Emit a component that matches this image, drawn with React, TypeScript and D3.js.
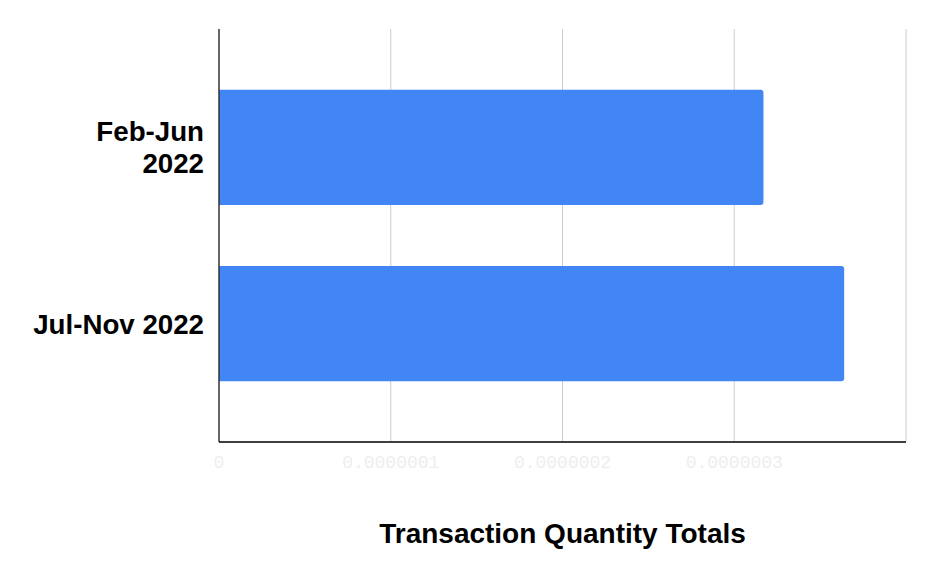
import React from 'react';
import * as d3 from 'd3';

const categories = ['Feb-Jun 2022', 'Jul-Nov 2022'];
const categoryLines = [['Feb-Jun', '2022'], ['Jul-Nov 2022']];
const totals = [3.17e-7, 3.64e-7];
const xTicks = [0, 1e-7, 2e-7, 3e-7, 4e-7];
const xTickLabels = ['0', '0.0000001', '0.0000002', '0.0000003', ''];
const xTitle = 'Transaction Quantity Totals';

const W = 936;
const H = 578;
const margin = { top: 29, right: 30, bottom: 136, left: 219 };
const FONT = 'Arial, "Liberation Sans", sans-serif';

// bar with rounded right-hand corners only
function barPath(x0: number, x1: number, y0: number, h: number, r: number) {
  const p = d3.path();
  p.moveTo(x0, y0);
  p.lineTo(x1 - r, y0);
  p.quadraticCurveTo(x1, y0, x1, y0 + r);
  p.lineTo(x1, y0 + h - r);
  p.quadraticCurveTo(x1, y0 + h, x1 - r, y0 + h);
  p.lineTo(x0, y0 + h);
  p.closePath();
  return p.toString();
}

export default function App() {
  const innerW = W - margin.left - margin.right;
  const innerH = H - margin.top - margin.bottom;

  const x = d3.scaleLinear().domain([0, 4e-7]).range([margin.left, margin.left + innerW]);
  const y = d3
    .scaleBand<string>()
    .domain(categories)
    .range([margin.top, margin.top + innerH])
    .padding(0.345);

  const bottom = margin.top + innerH;

  return (
    <svg
      width={W}
      height={H}
      style={{ position: 'absolute', left: 0, top: 0, background: '#fff' }}
    >
      {/* gridlines */}
      {xTicks.slice(1).map((t) => (
        <line
          key={'g' + t}
          x1={x(t)}
          x2={x(t)}
          y1={margin.top}
          y2={bottom}
          stroke="#cccccc"
          strokeWidth={1}
        />
      ))}

      {/* bars */}
      {categories.map((c, i) => (
        <path
          key={c}
          d={barPath(x(0), x(totals[i]), y(c)!, y.bandwidth(), 3)}
          fill="#4285f4"
        />
      ))}

      {/* axes */}
      <line x1={x(0)} x2={x(0)} y1={margin.top} y2={bottom} stroke="#333" strokeWidth={1.5} />
      <line x1={x(0)} x2={x(4e-7)} y1={bottom} y2={bottom} stroke="#000" strokeWidth={1.5} />

      {/* x tick labels */}
      {xTicks.map((t, i) => (
        <text
          key={'t' + t}
          x={x(t)}
          y={468}
          textAnchor="middle"
          fontFamily='"Liberation Mono", monospace'
          fontSize={18}
          fill="#eeeeee"
        >
          {xTickLabels[i]}
        </text>
      ))}

      {/* category labels */}
      {categories.map((c, i) => {
        const lines = categoryLines[i];
        const cy = y(c)! + y.bandwidth() / 2;
        const lh = 32;
        return (
          <text
            key={'l' + c}
            x={204}
            textAnchor="end"
            fontFamily={FONT}
            fontWeight="bold"
            fontSize={27.7}
            fill="#000"
          >
            {lines.map((ln, j) => (
              <tspan key={j} x={204} y={cy + (j - (lines.length - 1) / 2) * lh} dy="0.36em">
                {ln}
              </tspan>
            ))}
          </text>
        );
      })}

      {/* axis title */}
      <text
        x={margin.left + innerW / 2}
        y={543}
        textAnchor="middle"
        fontFamily={FONT}
        fontWeight="bold"
        fontSize={28}
        fill="#000"
      >
        {xTitle}
      </text>
    </svg>
  );
}
